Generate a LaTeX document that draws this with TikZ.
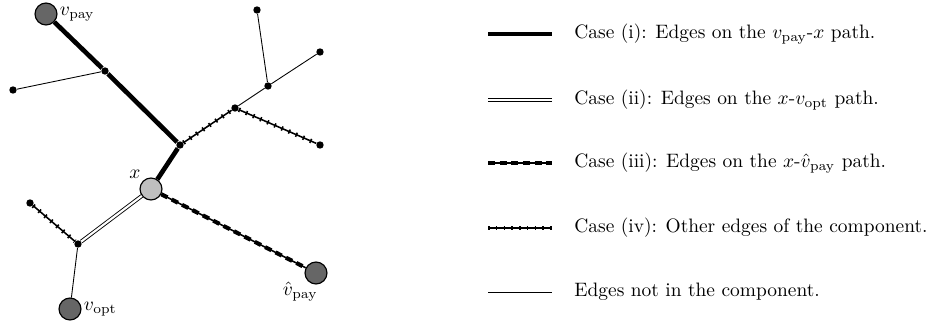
\documentclass[tikz,border=0pt]{standalone}
\begin{document}
\begin{tikzpicture}[x=0.0181cm,y=-0.0181cm,
  sm/.style={circle,fill=black,inner sep=0pt,minimum size=3.8pt},
  big/.style={circle,draw=black,fill=black!60,inner sep=0pt,minimum size=11.3pt,line width=0.6pt},
  xnode/.style={big,fill=black!25},
  ci/.style={line width=2.4pt},
  cii/.style={double,double distance=1.1pt,line width=0.45pt},
  ciiib/.style={line width=0.8pt},
  ciii/.style={line width=2.1pt,dash pattern=on 3.6pt off 2.4pt},
  civb/.style={line width=0.8pt},
  civ/.style={line width=2.3pt,dash pattern=on 0.8pt off 3.2pt},
  nc/.style={line width=0.45pt},
  lbl/.style={anchor=west,inner sep=0pt}]
\useasboundingbox (0,0) rectangle (940,328);
% nodes
\node[big] (vpay) at (46,14) {};
\node[sm] (a) at (105,71) {};
\node[sm] (l1) at (13,90) {};
\node[sm] (b) at (180,145) {};
\node[sm] (c) at (235,108) {};
\node[sm] (d) at (268,86) {};
\node[sm] (t) at (257,10) {};
\node[sm] (rt) at (320,52) {};
\node[sm] (rb) at (320,145) {};
\node[xnode] (x) at (151,189) {};
\node[sm] (e) at (78,244) {};
\node[sm] (lt) at (30,203) {};
\node[big] (vopt) at (70,309) {};
\node[big] (vh) at (316,273) {};
% labels
\node[anchor=west,inner sep=1pt] at (vpay.east) {$v_{\mathrm{pay}}$};
\node[anchor=south east,inner sep=1pt] at (x.north west) {$x$};
\node[anchor=west,inner sep=1pt] at (vopt.east) {$v_{\mathrm{opt}}$};
\node[anchor=north east,inner sep=0pt] at (318,282) {$\hat{v}_{\mathrm{pay}}$};
% edges
\draw[nc] (l1) -- (a);
\draw[nc] (t) -- (d);
\draw[nc] (d) -- (rt);
\draw[nc] (c) -- (d);
\draw[nc] (e) -- (vopt);
\draw[ci] (vpay) -- (a);
\draw[ci] (a) -- (b);
\draw[ci] (b) -- (x);
\draw[civb] (b) -- (c); \draw[civ] (b) -- (c);
\draw[civb] (c) -- (rb); \draw[civ] (c) -- (rb);
\draw[civb] (lt) -- (e); \draw[civ] (lt) -- (e);
\draw[cii] (x) -- (e);
\draw[ciiib] (x) -- (vh); \draw[ciii] (x) -- (vh);
% legend
\coordinate (l1a) at (488,34); \coordinate (l1b) at (552,34);
\coordinate (l2a) at (488,100); \coordinate (l2b) at (552,100);
\coordinate (l3a) at (488,163); \coordinate (l3b) at (552,163);
\coordinate (l4a) at (488,228); \coordinate (l4b) at (552,228);
\coordinate (l5a) at (488,292); \coordinate (l5b) at (552,292);
\draw[ci] (l1a) -- (l1b);
\draw[cii] (l2a) -- (l2b);
\draw[ciiib] (l3a) -- (l3b); \draw[ciii] (l3a) -- (l3b);
\draw[civb] (l4a) -- (l4b); \draw[civ] (l4a) -- (l4b);
\draw[nc] (l5a) -- (l5b);
\node[lbl] (t1) at (574,34) {Case (i): Edges on the $v_{\mathrm{pay}}$-$x$ path.};
\node[lbl] (t2) at (574,100) {Case (ii): Edges on the $x$-$v_{\mathrm{opt}}$ path.};
\node[lbl] (t3) at (574,163) {Case (iii): Edges on the $x$-$\hat{v}_{\mathrm{pay}}$ path.};
\node[lbl] (t4) at (574,228) {Case (iv): Other edges of the component.};
\node[lbl] (t5) at (574,292) {Edges not in the component.};
\end{tikzpicture}
\end{document}
